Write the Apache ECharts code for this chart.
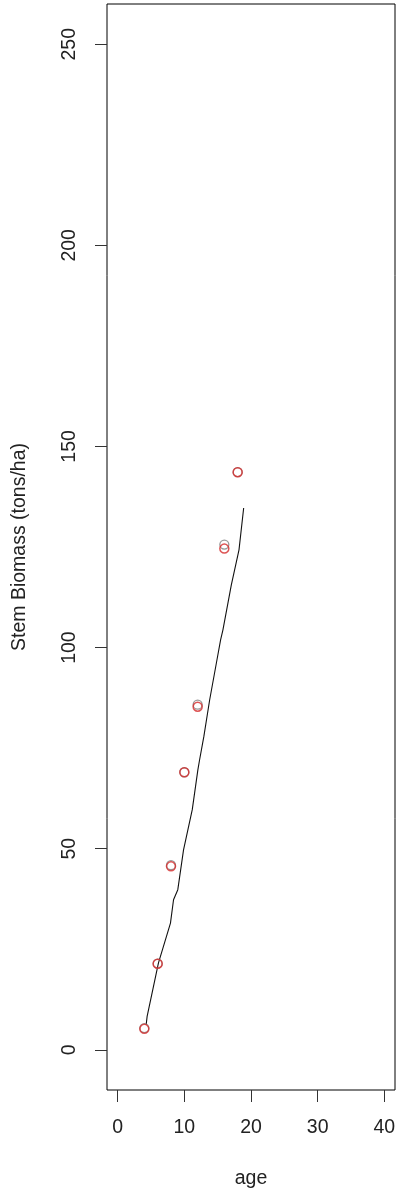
<!DOCTYPE html>
<html>
<head>
<meta charset="utf-8">
<script src="https://cdn.jsdelivr.net/npm/echarts@6/dist/echarts.min.js"></script>
<style>
html,body{margin:0;padding:0;background:#fff;}
#chart{width:397px;height:1191px;}
</style>
</head>
<body>
<div id="chart"></div>
<script>
// Data
var xTicks = [0, 10, 20, 30, 40];
var yTicks = [0, 50, 100, 150, 200, 250];
var observed = [[4, 5.4], [6, 21.4], [8, 45.9], [10, 69.0], [12, 85.8], [16, 125.6], [18, 143.6]];
var predicted = [[4, 5.2], [6, 21.4], [8, 45.6], [10, 69.0], [12, 85.3], [16, 124.6], [18, 143.6]];
var fitLine = [[4.27, 6.2], [4.42, 8.3], [6.12, 21.6], [7.92, 31.5], [8.38, 37.3], [9.02, 39.8],
  [9.88, 49.7], [11.19, 59.7], [12.03, 69.6], [12.29, 72.1], [12.93, 77.9], [13.79, 86.9],
  [14.89, 96.9], [15.44, 101.9], [15.79, 104.4], [17.05, 115.6], [18.20, 124.3], [18.90, 134.7]];

var chart = echarts.init(document.getElementById('chart'), null, {renderer: 'canvas'});
var font = 'Liberation Sans, Arial, sans-serif';
chart.setOption({
  animation: false,
  backgroundColor: '#fff',
  grid: {left: 107, right: 2, top: 4, bottom: 101, show: true, borderColor: '#000', borderWidth: 1,
    backgroundColor: 'transparent', containLabel: false, outerBoundsMode: 'none'},
  xAxis: {
    type: 'value', min: -1.6, max: 41.6,
    name: 'age', nameLocation: 'middle', nameGap: 79,
    nameTextStyle: {fontSize: 19.5, color: '#222', fontFamily: font},
    axisLine: {show: false, onZero: false},
    splitLine: {show: false},
    axisTick: {show: true, inside: false, length: 12, customValues: xTicks, lineStyle: {color: '#333', width: 1}},
    axisLabel: {customValues: xTicks, margin: 28, fontSize: 19.5, color: '#222', fontFamily: font}
  },
  yAxis: {
    type: 'value', min: -10, max: 260,
    name: 'Stem Biomass (tons/ha)', nameLocation: 'middle', nameGap: 77, nameRotate: 90,
    nameTextStyle: {fontSize: 19.5, color: '#222', fontFamily: font},
    axisLine: {show: false, onZero: false},
    splitLine: {show: false},
    axisTick: {show: true, inside: false, length: 12, customValues: yTicks, lineStyle: {color: '#333', width: 1}},
    axisLabel: {customValues: yTicks, rotate: 90, margin: 27, fontSize: 19.5, color: '#222', fontFamily: font}
  },
  series: [
    {type: 'line', data: fitLine, showSymbol: false, symbol: 'none', lineStyle: {color: '#111', width: 1.1}, z: 2},
    {type: 'scatter', data: observed, symbol: 'circle', symbolSize: 9,
      itemStyle: {color: 'rgba(0,0,0,0)', borderColor: '#808080', borderWidth: 1.3}, z: 3},
    {type: 'scatter', data: predicted, symbol: 'circle', symbolSize: 9,
      itemStyle: {color: 'rgba(0,0,0,0)', borderColor: '#d42a2a', borderWidth: 1.5}, z: 4}
  ]
});
</script>
</body>
</html>
